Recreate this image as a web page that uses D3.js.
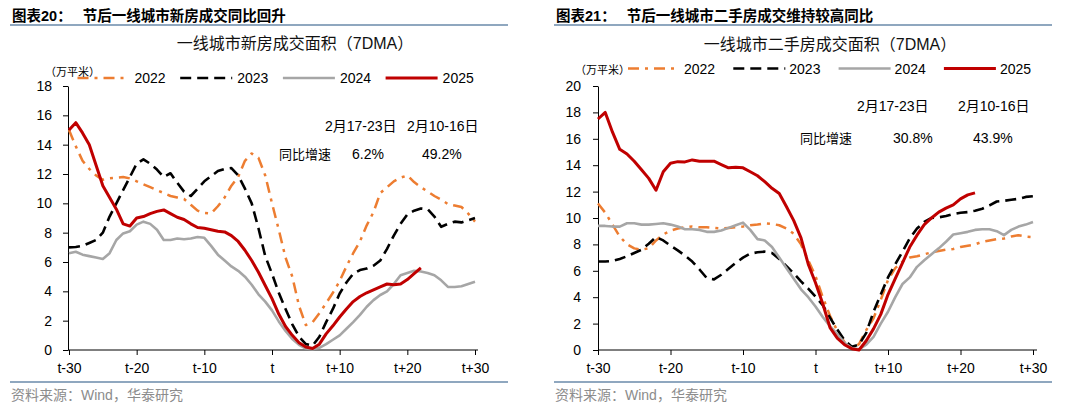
<!DOCTYPE html>
<html><head><meta charset="utf-8">
<script src="https://cdn.jsdelivr.net/npm/d3@7"></script>
<style>
body{margin:0;background:#fff}
svg{display:block}
</style>
</head><body><svg id="c" width="1080" height="412"></svg>
<script>
// ---------------- DATA ----------------
const days = d3.range(-30, 31);               // t-30 ... t+30
const xTickValues = [-30, -20, -10, 0, 10, 20, 30];
const xTickLabels = ["t-30", "t-20", "t-10", "t", "t+10", "t+20", "t+30"];
const years = ["2022", "2023", "2024", "2025"];
const unitLabel = "（万平米）";

// 一线城市新房成交面积（7DMA）
const newHome2022 = [15.0,13.9,12.9,12.35,11.9,11.6,11.7,11.75,11.8,11.7,
  11.5,11.3,11.1,10.9,10.7,10.5,10.4,10.3,9.9,9.5,
  9.35,9.3,9.8,10.4,11.2,11.8,12.9,13.4,13.1,11.9,
  10.0,8.2,6.3,5.0,3.0,1.7,1.9,2.5,3.2,3.9,
  4.7,5.7,6.6,7.4,8.5,9.4,10.7,11.1,11.5,11.75,
  11.9,11.45,11.1,10.8,10.5,10.25,9.95,9.85,9.75,9.3,
  8.75];
const newHome2023 = [7.0,7.02,7.1,7.3,7.5,8.0,9.1,10.0,10.9,11.8,
  12.7,13.0,12.7,12.3,11.8,12.05,11.4,10.8,10.5,11.0,
  11.5,11.85,12.2,12.35,12.4,11.9,11.0,10.0,8.3,6.4,
  5.2,3.9,2.8,1.75,0.9,0.4,0.3,0.9,1.9,2.8,
  3.85,4.6,5.2,5.45,5.55,5.75,6.1,6.9,7.8,8.6,
  9.25,9.5,9.65,9.6,9.1,8.4,8.6,8.75,8.7,8.85,
  9.0];
const newHome2024 = [6.6,6.7,6.5,6.4,6.3,6.2,6.6,7.5,7.95,8.1,
  8.55,8.75,8.6,8.2,7.5,7.5,7.6,7.55,7.6,7.7,
  7.65,7.1,6.5,6.1,5.7,5.4,5.0,4.45,3.8,3.3,
  2.7,1.95,1.3,0.75,0.35,0.1,0.05,0.15,0.4,0.7,
  1.0,1.45,1.9,2.4,2.95,3.4,3.75,4.0,4.5,5.1,
  5.25,5.4,5.35,5.25,5.1,4.75,4.3,4.3,4.35,4.5,
  4.65];
const newHome2025 = [15.0,15.5,14.8,14.0,12.6,11.2,10.4,9.6,8.6,8.45,
  9.0,9.1,9.3,9.45,9.55,9.3,9.05,8.9,8.6,8.35,
  8.3,8.2,8.1,8.05,7.8,7.4,6.8,6.1,5.3,4.4,
  3.5,2.45,1.6,1.0,0.5,0.2,0.1,0.4,1.1,1.65,
  2.25,2.8,3.3,3.65,3.9,4.1,4.3,4.5,4.45,4.5,
  4.8,5.2,5.6];
const newHomeYTicks = [0, 2, 4, 6, 8, 10, 12, 14, 16, 18];
const newHomeNoteHeads = ["2月17-23日", "2月10-16日"];
const newHomeNoteValues = ["6.2%", "49.2%"];

// 一线城市二手房成交面积（7DMA）
const resale2022 = [11.1,10.4,9.5,8.6,8.0,7.7,7.6,7.7,8.3,8.75,
  9.05,9.2,9.3,9.35,9.3,9.3,9.25,9.2,9.25,9.3,
  9.35,9.45,9.5,9.6,9.55,9.45,9.2,8.8,8.0,6.8,
  5.6,4.0,2.6,1.45,0.6,0.15,0.45,1.5,2.4,3.8,
  5.3,6.2,6.7,7.0,7.1,7.25,7.4,7.5,7.6,7.65,
  7.8,7.9,8.0,8.2,8.3,8.4,8.45,8.6,8.7,8.6,
  8.55];
const resale2023 = [6.7,6.7,6.75,6.9,7.1,7.35,7.6,8.05,8.55,8.3,
  7.9,7.55,7.15,6.7,6.1,5.45,5.35,5.7,6.15,6.6,
  7.0,7.3,7.4,7.45,7.35,6.9,6.35,5.8,5.2,4.65,
  4.05,3.4,2.45,1.55,0.75,0.25,0.4,1.3,2.9,4.2,
  5.5,6.5,7.45,8.45,9.2,9.7,10.0,10.05,10.15,10.3,
  10.4,10.45,10.55,10.7,10.95,11.25,11.3,11.38,11.45,11.6,
  11.65];
const resale2024 = [9.4,9.4,9.35,9.35,9.6,9.6,9.5,9.5,9.55,9.6,
  9.5,9.35,9.15,9.15,9.1,8.95,8.95,9.05,9.25,9.45,
  9.65,9.1,8.4,8.3,7.8,7.0,6.2,5.4,4.6,4.0,
  3.3,2.5,1.8,1.2,0.55,0.15,0.05,0.4,1.0,2.0,
  2.9,4.0,5.0,5.5,6.3,6.8,7.25,7.7,8.2,8.75,
  8.85,8.95,9.1,9.15,9.15,9.0,8.7,9.1,9.35,9.5,
  9.7];
const resale2025 = [17.5,18.0,16.5,15.2,14.85,14.3,13.65,13.0,12.1,13.5,
  14.15,14.27,14.25,14.4,14.3,14.3,14.3,14.05,13.8,13.85,
  13.8,13.5,13.2,12.75,12.25,11.85,10.85,9.8,8.5,6.5,
  5.1,3.5,1.7,0.9,0.4,0.1,0.0,0.7,1.6,2.7,
  4.2,5.4,6.6,7.8,8.7,9.5,10.0,10.45,10.75,11.0,
  11.45,11.75,11.9];
const resaleYTicks = [0, 2, 4, 6, 8, 10, 12, 14, 16, 18, 20];
const resaleNoteHeads = ["2月17-23日", "2月10-16日"];
const resaleNoteValues = ["30.8%", "43.9%"];
const noteRowLabel = "同比增速";
const sourceText = "资料来源：Wind，华泰研究";

// ---------------- STYLE / LAYOUT ----------------
const FONT = '"Liberation Sans", Arial, "Noto Sans CJK SC", sans-serif';
const RULE = "#8FA7BF";
const styles = {
  "2022": {color: "#ED7D31", width: 2.5, dash: "11,6,3,6"},
  "2023": {color: "#000000", width: 2.6, dash: "11,6"},
  "2024": {color: "#A6A6A6", width: 2.6, dash: null},
  "2025": {color: "#C00000", width: 3, dash: null}
};

const panels = [
  {
    titleLabel: "图表20：", titleText: "节后一线城市新房成交同比回升",
    titleX: 12, ruleX: [10, 508],
    subtitle: "一线城市新房成交面积（7DMA）", subX: 295, subY: 49,
    series: [newHome2022, newHome2023, newHome2024, newHome2025],
    yMax: 18, yTicks: newHomeYTicks,
    xRange: [69, 475], axisX: [68, 478], yRange: [350, 86], yPad: 11,
    unitX: 45, unitY: 76, legendY: 78, legendX0: 77.5, legendStep: 102.7, legendLen: 52, legendTextDx: 57,
    heads: newHomeNoteHeads, values: newHomeNoteValues,
    headX: [325, 407], headY: 131, rowX: 279, rowY: 159, valX: [352, 422]
  },
  {
    titleLabel: "图表21：", titleText: "节后一线城市二手房成交维持较高同比",
    titleX: 556, ruleX: [554, 1052],
    subtitle: "一线城市二手房成交面积（7DMA）", subX: 830, subY: 50,
    series: [resale2022, resale2023, resale2024, resale2025],
    yMax: 20, yTicks: resaleYTicks,
    xRange: [598, 1033], axisX: [598, 1037], yRange: [350, 86], yPad: 12,
    unitX: 575, unitY: 74, legendY: 68.5, legendX0: 628, legendStep: 105.3, legendLen: 52, legendTextDx: 56,
    heads: resaleNoteHeads, values: resaleNoteValues,
    headX: [857, 958], headY: 111, rowX: 800, rowY: 143, valX: [893, 973]
  }
];

const svg = d3.select("#c");
svg.append("rect").attr("width", 1080).attr("height", 412).attr("fill", "#fff");

panels.forEach(p => {
  const g = svg.append("g");

  // header
  const t = g.append("text").attr("x", p.titleX).attr("y", 20.5)
    .attr("font-family", FONT).attr("font-size", 14.5).attr("font-weight", "bold").attr("fill", "#000");
  t.append("tspan").text(p.titleLabel);
  t.append("tspan").attr("dx", 11).text(p.titleText);
  g.append("line").attr("x1", p.ruleX[0]).attr("x2", p.ruleX[1]).attr("y1", 25).attr("y2", 25)
    .attr("stroke", RULE).attr("stroke-width", 2);

  g.append("text").attr("x", p.subX).attr("y", p.subY).attr("text-anchor", "middle")
    .attr("font-family", FONT).attr("font-size", 16).attr("fill", "#111").text(p.subtitle);

  // scales
  const x = d3.scaleLinear().domain([-30, 30]).range(p.xRange);
  const y = d3.scaleLinear().domain([0, p.yMax]).range(p.yRange);

  // y axis
  const ya = g.append("g").attr("transform", `translate(${p.axisX[0]},0)`)
    .call(d3.axisLeft(y).tickValues(p.yTicks).tickSize(5).tickSizeOuter(0).tickPadding(p.yPad).tickFormat(d3.format("d")));
  ya.attr("font-family", FONT).attr("font-size", 14);
  ya.selectAll("text").attr("fill", "#000");
  ya.selectAll("line,path").attr("stroke", "#000");

  // x axis
  const xa = g.append("g").attr("transform", `translate(0,${p.yRange[0]})`)
    .call(d3.axisBottom(x).tickValues(xTickValues).tickSize(5).tickSizeOuter(0).tickPadding(8)
      .tickFormat((d, i) => xTickLabels[i]));
  xa.attr("font-family", FONT).attr("font-size", 14);
  xa.select(".domain").remove();
  xa.selectAll("text").attr("fill", "#000");
  xa.selectAll("line").attr("stroke", "#000");
  g.append("line").attr("x1", p.axisX[0]).attr("x2", p.axisX[1])
    .attr("y1", p.yRange[0]).attr("y2", p.yRange[0]).attr("stroke", "#000").attr("stroke-width", 1);

  // lines
  const line = d3.line().x((d, i) => x(days[i])).y(d => y(d));
  years.forEach((yr, k) => {
    const s = styles[yr];
    g.append("path").datum(p.series[k]).attr("d", line)
      .attr("fill", "none").attr("stroke", s.color).attr("stroke-width", s.width)
      .attr("stroke-dasharray", s.dash).attr("stroke-linejoin", "round");
  });

  // legend
  years.forEach((yr, k) => {
    const s = styles[yr];
    const lx = p.legendX0 + k * p.legendStep;
    g.append("line").attr("x1", lx).attr("x2", lx + p.legendLen).attr("y1", p.legendY).attr("y2", p.legendY)
      .attr("stroke", s.color).attr("stroke-width", s.width).attr("stroke-dasharray", s.dash);
    g.append("text").attr("x", lx + p.legendTextDx).attr("y", p.legendY + 5)
      .attr("font-family", FONT).attr("font-size", 14).attr("fill", "#000").text(yr);
  });
  g.append("text").attr("x", p.unitX).attr("y", p.unitY)
    .attr("font-family", FONT).attr("font-size", 11).attr("fill", "#000").text(unitLabel);

  // annotation
  p.heads.forEach((h, i) => {
    g.append("text").attr("x", p.headX[i]).attr("y", p.headY)
      .attr("font-family", FONT).attr("font-size", 14).attr("fill", "#000").text(h);
    g.append("text").attr("x", p.valX[i]).attr("y", p.rowY)
      .attr("font-family", FONT).attr("font-size", 14).attr("fill", "#000").text(p.values[i]);
  });
  g.append("text").attr("x", p.rowX).attr("y", p.rowY)
    .attr("font-family", FONT).attr("font-size", 13).attr("fill", "#000").text(noteRowLabel);

  // footer
  g.append("line").attr("x1", p.ruleX[0]).attr("x2", p.ruleX[1]).attr("y1", 382).attr("y2", 382)
    .attr("stroke", RULE).attr("stroke-width", 2);
  g.append("text").attr("x", p.ruleX[0] + 1).attr("y", 400)
    .attr("font-family", FONT).attr("font-size", 14).attr("fill", "#8C8C8C").text(sourceText);
});
</script>
</body></html>
